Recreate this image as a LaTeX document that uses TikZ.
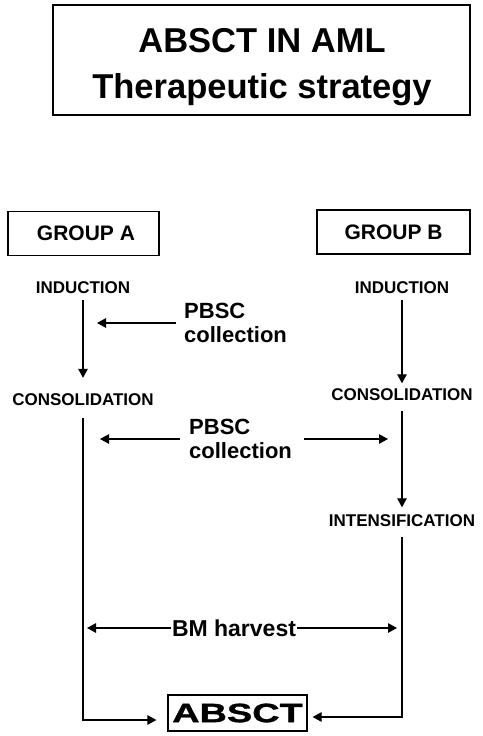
\documentclass[tikz,border=0pt]{standalone}
\usepackage{fontspec}
\setmainfont{Liberation Sans}
\newfontfamily\widesans[FakeStretch=1.43,FakeBold=1.2]{Liberation Sans}
\usetikzlibrary{arrows.meta}
\tikzset{
  titlebox/.style={draw,line width=1.3pt,minimum width=417pt,minimum height=110pt},
  titletext/.style={align=center,font=\fontsize{34.5}{45.5}\selectfont\bfseries},
  groupbox/.style={draw,line width=1.2pt,minimum height=44pt,font=\fontsize{21}{25}\selectfont\bfseries},
  stage/.style={inner sep=0pt,font=\fontsize{17}{20}\selectfont\bfseries},
  collect/.style={inner sep=0pt,align=left,font=\fontsize{22}{24.5}\selectfont\bfseries},
  flow/.style={draw,line width=1.2pt,-{Triangle[length=9pt,width=9.5pt]}},
}

\begin{document}
\begin{tikzpicture}[x=1pt,y=-1pt]
\useasboundingbox (0,0) rectangle (482,736);

% heading and the two arms
\node[titlebox] (ttl) at (261.5,60) {};
\node[titletext] (ttltext) at (262,67) {ABSCT IN AML\\Therapeutic strategy};
\node[groupbox,minimum width=151pt] (grpA) at (83.5,233.5) {\hspace{5pt}GROUP A};
\node[groupbox,minimum width=153pt] (grpB) at (393.5,232) {GROUP B};

% treatment steps
\node[stage] (indA) at (83,288) {INDUCTION};
\node[stage] (conA) at (83,400) {CONSOLIDATION};
\node[stage] (indB) at (402,288) {INDUCTION};
\node[stage] (conB) at (402,395) {CONSOLIDATION};
\node[stage] (intB) at (402,521) {INTENSIFICATION};

% harvests and final step
\node[collect,anchor=west] (pbscA) at (184,323) {PBSC\\collection};
\node[collect,anchor=west] (pbscB) at (189,439) {PBSC\\collection};
\node[inner sep=1pt,font=\fontsize{23}{26}\selectfont\bfseries] (bm) at (234,628) {BM harvest};
\node[draw,line width=1.2pt,minimum width=139pt,minimum height=36pt,inner sep=0pt,
  font=\widesans\fontsize{26.5}{30}\selectfont\bfseries] (absct) at (237.5,713) {ABSCT};

% vertical flow
\draw[flow,shorten <=6pt,shorten >=16pt] (indA) -- (conA);
\draw[flow,shorten <=6pt,shorten >=5.5pt] (indB) -- (conB);
\draw[flow,shorten <=10pt,shorten >=7.5pt] (conB) -- (intB);
\draw[flow,shorten <=12pt,shorten >=11pt] (conA) |- ([yshift=-7pt]absct.west);
\draw[flow,shorten <=9.5pt,shorten >=5pt] (intB) |- ([yshift=-4pt]absct.east);

% collection arrows
\draw[flow,shorten <=8pt,shorten >=14pt] (pbscA.west) -- (pbscA.west -| conA);
\draw[flow,shorten <=9pt,shorten >=17pt] (pbscB.west) -- (pbscB.west -| conA);
\draw[flow,shorten <=12pt,shorten >=14pt] (pbscB.east) -- (pbscB.east -| conB);
\draw[flow,shorten >=4pt] (bm.west) -- (bm.west -| conA);
\draw[flow,shorten >=5pt] (bm.east) -- (bm.east -| conB);

\end{tikzpicture}
\end{document}
